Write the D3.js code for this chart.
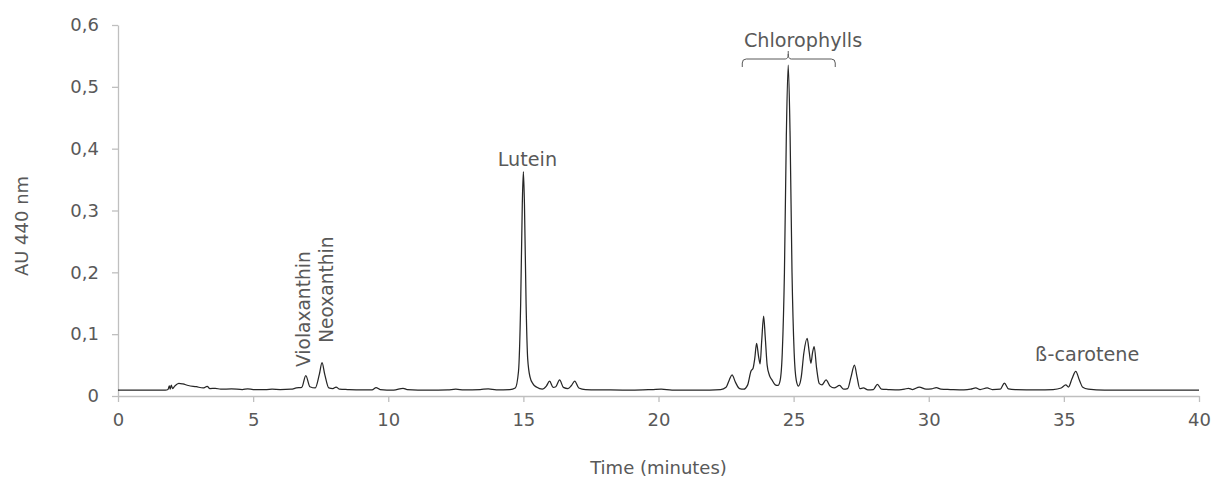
<!DOCTYPE html>
<html>
<head>
<meta charset="utf-8">
<script src="https://cdn.jsdelivr.net/npm/d3@7"></script>
<style>
  html, body { margin: 0; padding: 0; background: #fff; }
  svg { display: block; }
  text { font-family: "DejaVu Sans", sans-serif; fill: #595959; }
</style>
</head>
<body>
<svg id="chart" width="1211" height="481"></svg>
<script>
// ---- data ----
const times = [
  0, 1.0, 1.75, 1.85, 1.9, 1.93, 1.97, 2.02, 2.1, 2.25, 2.4, 2.6, 2.9, 3.15, 3.3, 3.4, 3.6, 3.8, 4.2, 4.6,
  4.8, 5.0, 5.5, 5.7, 6.0, 6.4, 6.6, 6.8, 6.95, 7.1, 7.3, 7.45, 7.55, 7.65, 7.8, 7.95, 8.07, 8.2, 8.5, 9.0,
  9.4, 9.55, 9.7, 10.2, 10.55, 10.7, 11.5, 12.2, 12.5, 12.8, 13.4, 13.7, 14.0, 14.5, 14.7, 14.82, 14.9, 14.96, 15.0, 15.04,
  15.1, 15.16, 15.25, 15.35, 15.5, 15.7, 15.85, 15.97, 16.1, 16.2, 16.34, 16.48, 16.65, 16.78, 16.9, 17.05, 17.3, 18.0, 19.0, 19.8,
  20.1, 20.5, 21.5, 22.3, 22.5, 22.62, 22.72, 22.85, 23.0, 23.15, 23.3, 23.42, 23.5, 23.56, 23.63, 23.7, 23.76, 23.82, 23.89, 23.95,
  24.02, 24.1, 24.2, 24.32, 24.42, 24.5, 24.58, 24.66, 24.73, 24.8, 24.87, 24.94, 25.02, 25.1, 25.18, 25.28, 25.38, 25.5, 25.58, 25.64,
  25.7, 25.76, 25.85, 25.95, 26.05, 26.2, 26.35, 26.5, 26.7, 26.85, 27.0, 27.12, 27.25, 27.35, 27.45, 27.58, 27.75, 27.95, 28.1, 28.25,
  28.5, 28.9, 29.1, 29.25, 29.4, 29.65, 29.9, 30.1, 30.28, 30.45, 30.8, 31.3, 31.55, 31.74, 31.9, 32.16, 32.35, 32.65, 32.8, 32.95,
  33.2, 34.0, 34.6, 34.9, 35.07, 35.17, 35.3, 35.44, 35.58, 35.7, 35.9, 36.5, 38.0, 40.0
];
const absorbance = [
  0.0095, 0.0095, 0.0095, 0.0105, 0.0165, 0.011, 0.0175, 0.012, 0.016, 0.0205, 0.0195, 0.017, 0.015, 0.013, 0.0155, 0.012, 0.0125, 0.011, 0.0115, 0.0105,
  0.0115, 0.0105, 0.0105, 0.011, 0.0105, 0.011, 0.013, 0.014, 0.033, 0.015, 0.013, 0.035, 0.054, 0.035, 0.013, 0.012, 0.0145, 0.011, 0.0105, 0.010,
  0.010, 0.0135, 0.0105, 0.0095, 0.0125, 0.0105, 0.0095, 0.010, 0.011, 0.010, 0.0105, 0.0115, 0.010, 0.0105, 0.013, 0.040, 0.150, 0.310, 0.363, 0.310,
  0.150, 0.060, 0.030, 0.020, 0.014, 0.011, 0.016, 0.024, 0.014, 0.015, 0.026, 0.014, 0.012, 0.017, 0.024, 0.013, 0.0105, 0.010, 0.0095, 0.0105,
  0.011, 0.0095, 0.0095, 0.0105, 0.014, 0.026, 0.034, 0.022, 0.012, 0.011, 0.018, 0.040, 0.045, 0.060, 0.085, 0.065, 0.052, 0.090, 0.129, 0.095,
  0.050, 0.034, 0.026, 0.018, 0.017, 0.025, 0.070, 0.200, 0.420, 0.535, 0.420, 0.200, 0.070, 0.025, 0.016, 0.030, 0.070, 0.093, 0.070, 0.053,
  0.070, 0.080, 0.045, 0.020, 0.018, 0.026, 0.016, 0.013, 0.017, 0.011, 0.012, 0.030, 0.050, 0.030, 0.012, 0.013, 0.010, 0.0105, 0.019, 0.011,
  0.0105, 0.010, 0.011, 0.0125, 0.0105, 0.0145, 0.011, 0.0115, 0.0135, 0.011, 0.0105, 0.010, 0.011, 0.013, 0.0105, 0.013, 0.0105, 0.011, 0.021, 0.0115,
  0.0105, 0.010, 0.0105, 0.013, 0.018, 0.0145, 0.028, 0.040, 0.025, 0.014, 0.011, 0.0095, 0.0095, 0.0095
];
const xTicks = [0, 5, 10, 15, 20, 25, 30, 35, 40];
const yTicks = [0, 0.1, 0.2, 0.3, 0.4, 0.5, 0.6];
const yTickLabels = ["0", "0,1", "0,2", "0,3", "0,4", "0,5", "0,6"];
const peakNames = ["Lutein", "Chlorophylls", "ß-carotene"];
const peakLabelTimes = [15.15, 25.35, 35.86];
const peakLabelValues = [0.372, 0.565, 0.057];
const verticalNames = ["Violaxanthin", "Neoxanthin"];
const verticalLabelTimes = [7.1, 7.95];
const verticalLabelValues = [0.047, 0.086];
const braceRange = [23.1, 26.54, 24.8];
const xTitle = "Time (minutes)";
const yTitle = "AU 440 nm";

// ---- drawing ----
const svg = d3.select("#chart");
const x = d3.scaleLinear().domain([0, 40]).range([118, 1199]);
const y = d3.scaleLinear().domain([0, 0.6]).range([396, 25]);
const FS = 18;
const FS_ANN = 19.2;
const FS_VERT = 18.6;

const xAxis = svg.append("g").attr("transform", `translate(0,${y(0)})`)
  .call(d3.axisBottom(x).tickValues(xTicks).tickSize(6).tickSizeOuter(0).tickPadding(11).tickFormat(d => String(d)));
const yAxis = svg.append("g").attr("transform", `translate(${x(0)},0)`)
  .call(d3.axisLeft(y).tickValues(yTicks).tickSize(6).tickSizeOuter(0).tickPadding(13).tickFormat((d, i) => yTickLabels[i]));
[xAxis, yAxis].forEach(g => {
  g.select(".domain").attr("stroke", "#bfbfbf").attr("stroke-width", 1.3);
  g.selectAll(".tick line").attr("stroke", "#bfbfbf").attr("stroke-width", 1.3);
  g.selectAll(".tick text").attr("fill", "#595959").style("font-size", FS + "px")
    .style("font-family", '"DejaVu Sans", sans-serif');
});

const pts = times.map((t, i) => [t, absorbance[i]]);
const line = d3.line().x(d => x(d[0])).y(d => y(d[1])).curve(d3.curveMonotoneX);
svg.append("path").datum(pts).attr("d", line)
  .attr("fill", "none").attr("stroke", "#262626").attr("stroke-width", 1.25).attr("stroke-linejoin", "round");

// peak labels
peakNames.forEach((n, i) => {
  svg.append("text").attr("x", x(peakLabelTimes[i])).attr("y", y(peakLabelValues[i]))
    .attr("text-anchor", "middle").style("font-size", FS_ANN + "px").text(n);
});
verticalNames.forEach((n, i) => {
  svg.append("text")
    .attr("transform", `translate(${x(verticalLabelTimes[i])},${y(verticalLabelValues[i])}) rotate(-90)`)
    .attr("text-anchor", "start").style("font-size", FS_VERT + "px").text(n);
});

// chlorophyll brace
const bx0 = x(braceRange[0]), bx1 = x(braceRange[1]), bxc = x(braceRange[2]);
const by = 59, r = 4;
svg.append("path")
  .attr("d", `M${bx0},${by + 8} L${bx0},${by + r} Q${bx0},${by} ${bx0 + r},${by} L${bxc - 3},${by} Q${bxc},${by} ${bxc},${by - 5} L${bxc},${by - 8}` +
             ` M${bxc},${by - 5} Q${bxc},${by} ${bxc + 3},${by} L${bx1 - r},${by} Q${bx1},${by} ${bx1},${by + r} L${bx1},${by + 8}`)
  .attr("fill", "none").attr("stroke", "#595959").attr("stroke-width", 1);

// axis titles
svg.append("text").attr("x", (x(0) + x(40)) / 2).attr("y", 474)
  .attr("text-anchor", "middle").style("font-size", FS + "px").text(xTitle);
svg.append("text").attr("transform", `translate(28,226) rotate(-90)`)
  .attr("text-anchor", "middle").style("font-size", FS + "px").text(yTitle);
</script>
</body>
</html>
